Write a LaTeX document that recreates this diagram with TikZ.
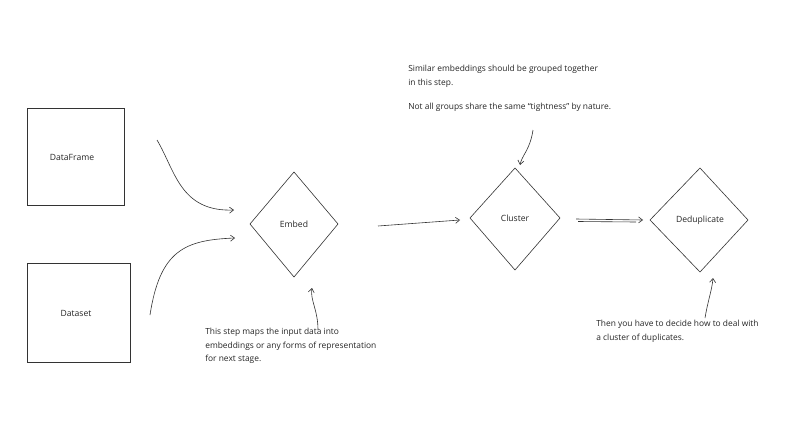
\documentclass[tikz,border=0pt]{standalone}
\usepackage{fontspec}
\setmainfont{Open Sans}
\usetikzlibrary{arrows.meta}
\begin{document}
\begin{tikzpicture}[x=1pt,y=-1pt,line width=0.6pt,draw=black!80,
  lbl/.style={font=\fontsize{8.6}{10}\selectfont,text=black!85,inner sep=0},
  note/.style={font=\fontsize{8.4}{13.5}\selectfont,text=black!85,inner sep=0,anchor=north west,align=left},
  arr/.style={-{Straight Barb[length=4pt,width=6pt]},black!80},
  dia/.style={draw=black!80}]
\useasboundingbox[fill=white] (0,0) rectangle (800,439);
\draw (27,108) rectangle (124,205);
\node[lbl] (df) at (72,157) {DataFrame};
\draw (27,263) rectangle (130,362);
\node[lbl] (ds) at (76,313) {Dataset};
\draw[dia] (250,224) -- (294,172) -- (338,224) -- (294,277) -- cycle;
\node[lbl] (em) at (294,224) {Embed};
\draw[dia] (470,218) -- (515,168) -- (560,218) -- (515,270) -- cycle;
\node[lbl] (cl) at (515,218) {Cluster};
\draw[dia] (650,220) -- (700,168) -- (748,220) -- (700,272) -- cycle;
\node[lbl] (dd) at (700,220) {Deduplicate};
\coordinate (a1) at (157,140); \coordinate (a1e) at (234,210);
\draw[arr] (a1) .. controls (175,170) and (180,212) .. (a1e);
\coordinate (a2) at (150,315); \coordinate (a2e) at (235,238);
\draw[arr] (a2) .. controls (160,250) and (185,240) .. (a2e);
\coordinate (b1) at (378,226); \coordinate (b2) at (460,220);
\draw[arr] (b1) -- (b2);
\coordinate (c1) at (576,219); \coordinate (c2) at (643,220);
\draw[arr] (c1) -- (c2);
\draw (578,221.5) -- (636,222);
\coordinate (d1) at (533,130); \coordinate (d2) at (520,165);
\draw[arr] (d1) .. controls (530,150) and (522,155) .. (d2);
\coordinate (e1) at (318,330); \coordinate (e2) at (312,288);
\draw[arr] (e1) .. controls (318,310) and (310,300) .. (e2);
\coordinate (f1) at (705,318); \coordinate (f2) at (713,278);
\draw[arr] (f1) .. controls (708,300) and (712,290) .. (f2);
\node[note] (t1) at (408,65) {Similar embeddings should be grouped together\\in this step.};
\node[note] (t2) at (408,103) {Not all groups share the same ``tightness'' by nature.};
\node[note] (t3) at (205,328) {This step maps the input data into\\embeddings or any forms of representation\\for next stage.};
\node[note] (t4) at (596,320) {Then you have to decide how to deal with\\a cluster of duplicates.};
\end{tikzpicture}
\end{document}
